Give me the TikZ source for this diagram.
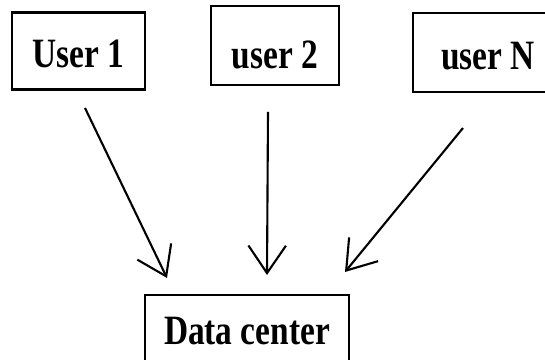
\documentclass[tikz,border=0pt]{standalone}
\usepackage{fontspec}
\setmainfont{Liberation Serif}
\usepackage{graphicx}
\definecolor{SketchBlack}{HTML}{000000}
\definecolor{SketchWhite}{HTML}{FFFFFF}
\usepackage{tikz}
\usetikzlibrary{arrows.meta, positioning, calc}
\newcommand{\tallbf}[1]{\scalebox{1}[1.25]{\bfseries #1}}
\tikzset{
    userbox/.style={
        draw=SketchBlack,
        line width=1.6pt,
        fill=SketchWhite,
        minimum width=2.66cm,
        minimum height=1.54cm,
        text=SketchBlack,
        font=\fontsize{19}{22}\selectfont,
        text height=19pt,
        text depth=0pt,
        align=center,
        inner sep=4pt
    },
    arrow/.style={
        -{Straight Barb[length=5.5mm,width=7.5mm,line width=1.2pt]},
        line width=1.2pt,
        SketchBlack
    }
}
\begin{document}
\begin{tikzpicture}
        \useasboundingbox (0,0) rectangle (10.9,7.2);

        % users on top
        \node[userbox] (user1) at (1.57,6.18) {\tallbf{User 1}};
        \node[userbox, minimum width=2.56cm, minimum height=1.58cm, text height=26pt] (user2) at (5.5,6.29) {\tallbf{user 2}};
        \node[userbox, minimum width=3cm, minimum height=1.58cm] (userN) at (9.76,6.15) {\tallbf{user N}};

        % data center at the bottom
        \node[userbox, minimum width=4.08cm, minimum height=1.4cm, text height=16pt] (datacenter) at (4.94,0.6) {\tallbf{Data center}};

        % free ends of the hand drawn arrows
        \coordinate (u1out) at (1.70,5.04);
        \coordinate (u2out) at (5.36,4.96);
        \coordinate (uNout) at (9.26,4.64);
        \coordinate (dcin1) at (3.34,1.64);
        \coordinate (dcin2) at (5.34,1.70);
        \coordinate (dcin3) at (6.90,1.76);

        \draw[arrow] (u1out) -- (dcin1);
        \draw[arrow] (u2out) -- (dcin2);
        \draw[arrow] (uNout) -- (dcin3);
    \end{tikzpicture}
\end{document}
